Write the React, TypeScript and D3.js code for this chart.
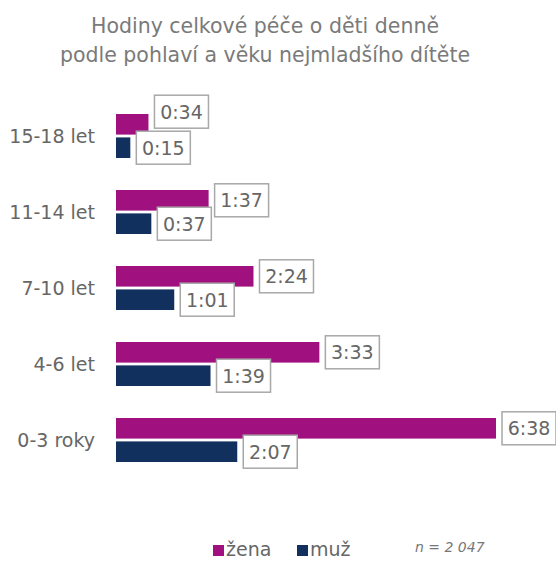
import React from "react";
import * as d3 from "d3";

const categories = ["15-18 let", "11-14 let", "7-10 let", "4-6 let", "0-3 roky"];
const series = ["žena", "muž"];
const zenaMinutes = [34, 97, 144, 213, 398];
const muzMinutes = [15, 37, 61, 99, 127];
const titleLines = ["Hodiny celkové péče o děti denně", "podle pohlaví a věku nejmladšího dítěte"];
const note = "n = 2 047";

const colors = ["#A0117F", "#12305E"];
const FONT = "'DejaVu Sans', sans-serif";

const fmt = (m: number) => `${Math.floor(m / 60)}:${String(m % 60).padStart(2, "0")}`;

export default function App() {
  const W = 556, H = 561;
  const x = d3.scaleLinear().domain([0, 398]).range([116, 496]);
  const y = d3.scaleBand<string>().domain(categories).range([100, 480]).paddingInner(0);
  const inner = d3.scaleBand<string>().domain(series).range([14, 58]).paddingInner(0.12);
  const bw = inner.bandwidth();
  const boxW = 54, boxH = 33;

  const groups = categories.map((c, i) => {
    const vals = [zenaMinutes[i], muzMinutes[i]];
    const boxes = vals.map((v, s) => {
      const barY = (y(c) as number) + (inner(series[s]) as number);
      const bx = x(v) + 6;
      const by = barY + bw / 2 - boxH / 2;
      return { v, s, barY, bx, by };
    });
    const [a, b] = boxes;
    const hOverlap = a.bx < b.bx + boxW && b.bx < a.bx + boxW;
    if (hOverlap && a.by + boxH > b.by - 3) a.by = b.by - 3 - boxH;
    return { c, boxes };
  });

  return (
    <svg width={W} height={H} style={{ position: "absolute", left: 0, top: 0, background: "#fff" }} fontFamily={FONT}>
      <rect width={W} height={H} fill="#fff" />
      {titleLines.map((t, i) => (
        <text key={i} x={265} y={33 + i * 29} textAnchor="middle" fontSize={20.5} fill="#7a7a7a">{t}</text>
      ))}
      {groups.map(({ c, boxes }) => (
        <g key={c}>
          <text x={95} y={(y(c) as number) + 36 + 7} textAnchor="end" fontSize={19} fill="#666">{c}</text>
          {boxes.map((b) => (
            <rect key={"bar" + b.s} x={x(0)} y={b.barY} width={x(b.v) - x(0)} height={bw} fill={colors[b.s]} />
          ))}
          {boxes.map((b) => (
            <g key={"lbl" + b.s}>
              <rect x={b.bx} y={b.by} width={boxW} height={boxH} fill="#fff" stroke="#a8a8a8" strokeWidth={1.5} />
              <text x={b.bx + boxW / 2} y={b.by + boxH / 2 + 7} textAnchor="middle" fontSize={19} fill="#666">{fmt(b.v)}</text>
            </g>
          ))}
        </g>
      ))}
      {series.map((s, i) => (
        <g key={s} transform={`translate(${[213, 297][i]},0)`}>
          <rect x={0} y={545} width={11} height={11} fill={colors[i]} />
          <text x={13} y={556} fontSize={19} fill="#666">{s}</text>
        </g>
      ))}
      <text x={415} y={552} fontSize={14} fontStyle="italic" fill="#777">{note}</text>
    </svg>
  );
}
